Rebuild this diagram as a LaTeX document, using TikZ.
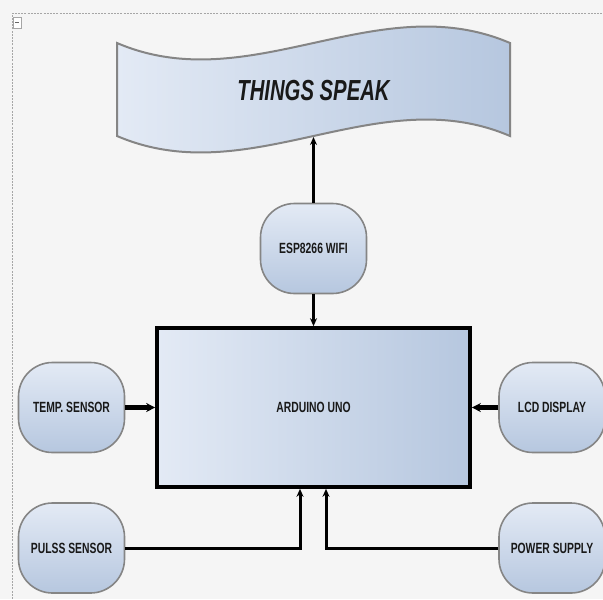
\documentclass[tikz,border=0pt]{standalone}
\usepackage{fontspec}
\newfontfamily\narrowsf[FakeStretch=0.7]{Liberation Sans}
\usetikzlibrary{arrows.meta, positioning, calc}
\definecolor{bgpage}{HTML}{F5F5F5}
\definecolor{boxlt}{HTML}{E3EAF5}
\definecolor{boxdk}{HTML}{B6C7DF}
\definecolor{rimgray}{HTML}{858585}
\tikzset{
  unit/.style  = {draw=black, line width=1.8pt, left color=boxlt, right color=boxdk,
                  minimum width=156.5pt, minimum height=79.5pt, text=black!90,
                  font=\narrowsf\bfseries\fontsize{7.4}{8.8}\selectfont},
  term/.style  = {draw=rimgray, line width=0.8pt, rounded corners=17pt,
                  top color=boxlt, bottom color=boxdk, align=center, inner sep=1pt,
                  minimum width=53pt, minimum height=45pt, text=black!90,
                  font=\narrowsf\bfseries\fontsize{7.4}{8.8}\selectfont},
  fl/.style    = {-{Stealth[length=4pt, width=3.5pt]}, line width=1.5pt},
  flw/.style   = {-{Stealth[length=4.5pt, width=4.5pt]}, line width=2.1pt},
}
\begin{document}
\begin{tikzpicture}[x=0.5pt, y=-0.5pt]
  \fill[bgpage] (0,0) rectangle (603,599);
  \useasboundingbox (0,0) rectangle (603,599);
  % page frame
  \draw[gray!70, dash pattern=on 1pt off 0.6pt] (12,599) -- (12,13) -- (603,13);
  \draw[gray!70, fill=white] (13,17) rectangle (21,28);
  \draw[gray!80!black] (15,22.5) -- (19,22.5);
  % cloud banner
  \draw[draw=rimgray, line width=1pt, left color=boxlt, right color=boxdk]
    (117,43) .. controls (250,100) and (377,-14) .. (510,43) -- (510,136)
    .. controls (377,79) and (250,193) .. (117,136) -- cycle;
  \node[font=\narrowsf\bfseries\itshape\fontsize{14.5}{17}\selectfont, text=black!90]
    (ts) at (313.5,91) {THINGS SPEAK};
  \coordinate (tsbot) at (313.5,137);
  % blocks
  \node[unit] (ard)   at (313.5,407.5) {ARDUINO UNO};
  \node[term] (esp)   at (313.5,248.5) {ESP8266 WIFI};
  \node[term] (temp)  at (71.5,407.5)  {TEMP. SENSOR};
  \node[term] (lcd)   at (552,407.5)   {LCD DISPLAY};
  \node[term] (puls)  at (71.5,548)    {PULSS SENSOR};
  \node[term] (power) at (552,548)     {POWER SUPPLY};
  % links
  \draw[fl] (esp) -- (tsbot);
  \draw[fl] (esp) -- (ard);
  \draw[flw] (temp) -- (ard);
  \draw[flw] (lcd) -- (ard);
  \draw[fl] (puls) -| ([xshift=-6.75pt]ard.south);
  \draw[fl] (power) -| ([xshift=6.25pt]ard.south);
\end{tikzpicture}
\end{document}
